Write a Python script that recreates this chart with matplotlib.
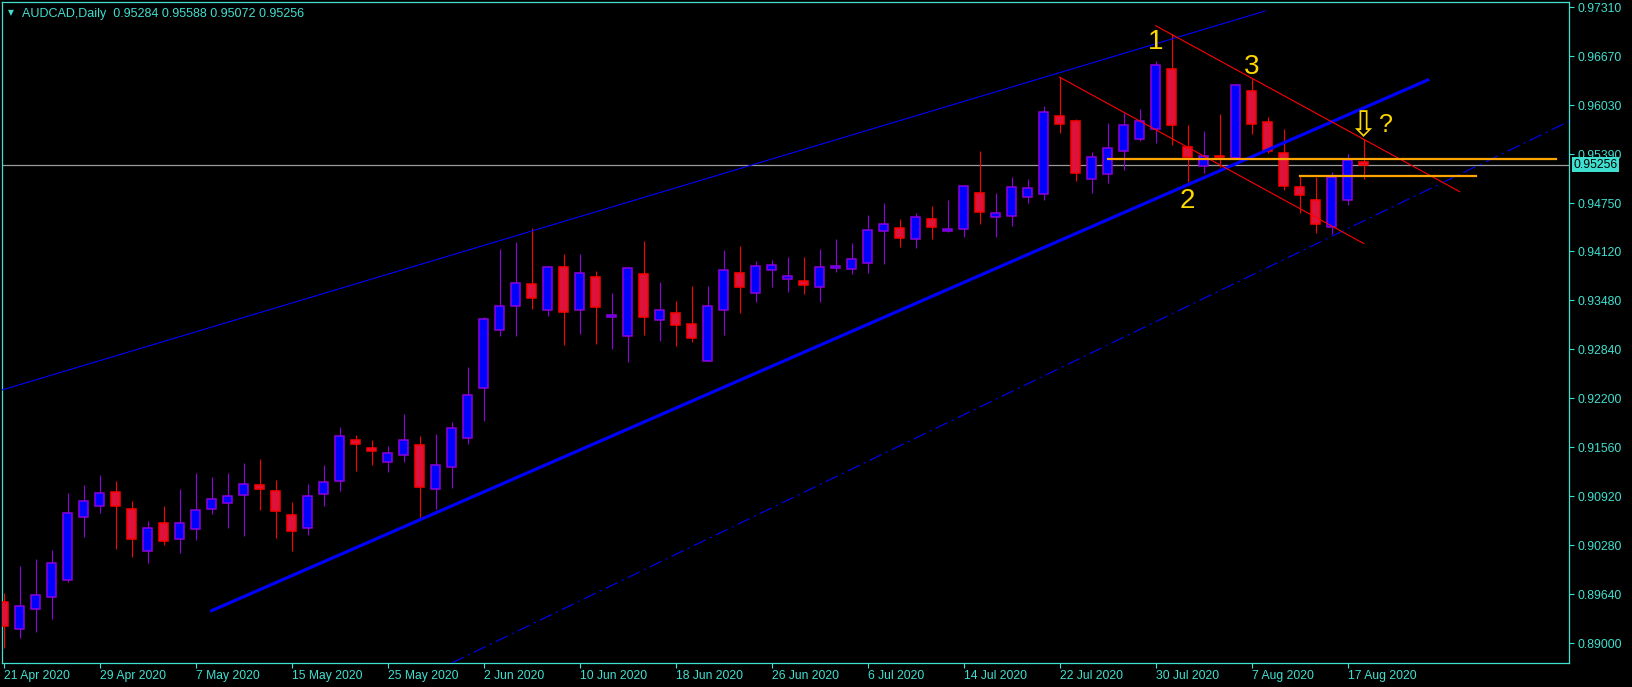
import matplotlib
matplotlib.use("Agg")
import matplotlib.pyplot as plt
from matplotlib.patches import Rectangle
from matplotlib.transforms import blended_transform_factory

plt.rcParams['font.family'] = ['Liberation Sans', 'DejaVu Sans']

# --------------------------------------------------------------
# AUDCAD daily bars, 21 Apr 2020 .. 18 Aug 2020
# --------------------------------------------------------------
opens = [0.89537, 0.89185, 0.89445, 0.89603, 0.89825, 0.90648, 0.90792, 0.90974, 0.90752, 0.90203,
         0.90569, 0.90364, 0.90491, 0.90752, 0.90831, 0.90935, 0.91066, 0.90987, 0.90674, 0.90504,
         0.90948, 0.91118, 0.91653, 0.91549, 0.91366, 0.91458, 0.91588, 0.91021, 0.91301, 0.91680,
         0.92333, 0.93090, 0.93404, 0.93691, 0.93351, 0.93914, 0.93351, 0.93783, 0.93260, 0.93012,
         0.93822, 0.93221, 0.93312, 0.93169, 0.92685, 0.93351, 0.93835, 0.93574, 0.93874, 0.93757,
         0.93730, 0.93659, 0.93908, 0.93888, 0.93966, 0.94384, 0.94423, 0.94287, 0.94541, 0.94384,
         0.94417, 0.94880, 0.94567, 0.94588, 0.94838, 0.94875, 0.95886, 0.95820, 0.95070, 0.95138,
         0.95439, 0.95586, 0.95726, 0.96501, 0.95485, 0.95243, 0.95365, 0.95345, 0.96216, 0.95811,
         0.95403, 0.94959, 0.94792, 0.94443, 0.94796, 0.95284]
highs = [0.89655, 0.90012, 0.90102, 0.90220, 0.90965, 0.91070, 0.91200, 0.91122, 0.90861, 0.90599,
         0.90796, 0.91017, 0.91230, 0.91174, 0.91230, 0.91357, 0.91409, 0.91135, 0.90848, 0.91083,
         0.91331, 0.91827, 0.91723, 0.91657, 0.91579, 0.91997, 0.91710, 0.91736, 0.91892, 0.92611,
         0.93267, 0.94152, 0.94244, 0.94423, 0.93931, 0.94087, 0.94087, 0.93865, 0.93578, 0.93914,
         0.94257, 0.93721, 0.93473, 0.93669, 0.93669, 0.94139, 0.94192, 0.93996, 0.94009, 0.94048,
         0.94048, 0.94152, 0.94283, 0.94231, 0.94597, 0.94753, 0.94544, 0.94623, 0.94714, 0.94792,
         0.94989, 0.95433, 0.94884, 0.95093, 0.95067, 0.96021, 0.96396, 0.95850, 0.95420, 0.95794,
         0.95925, 0.95979, 0.96605, 0.96957, 0.95769, 0.95694, 0.95913, 0.96308, 0.96382, 0.95883,
         0.95720, 0.95115, 0.95096, 0.95158, 0.95390, 0.95588]
lows = [0.88937, 0.89074, 0.89153, 0.89323, 0.89807, 0.90394, 0.90708, 0.90237, 0.90132, 0.90055,
        0.90290, 0.90185, 0.90355, 0.90695, 0.90511, 0.90408, 0.90747, 0.90381, 0.90211, 0.90421,
        0.90800, 0.90995, 0.91256, 0.91335, 0.91243, 0.91374, 0.90622, 0.90760, 0.91034, 0.91609,
        0.91909, 0.93020, 0.93020, 0.93372, 0.93281, 0.92903, 0.93046, 0.92916, 0.92850, 0.92680,
        0.93033, 0.92955, 0.92890, 0.92942, 0.92685, 0.93033, 0.93320, 0.93464, 0.93659, 0.93595,
        0.93569, 0.93464, 0.93856, 0.93830, 0.93843, 0.93961, 0.94179, 0.94169, 0.94287, 0.94371,
        0.94313, 0.94483, 0.94313, 0.94457, 0.94757, 0.94792, 0.95672, 0.95041, 0.94888, 0.95019,
        0.95184, 0.95563, 0.95541, 0.95515, 0.95032, 0.95149, 0.95227, 0.95345, 0.95661, 0.95407,
        0.94923, 0.94619, 0.94366, 0.94353, 0.94727, 0.95072]
closes = [0.89232, 0.89485, 0.89629, 0.90047, 0.90700, 0.90857, 0.90961, 0.90792, 0.90360, 0.90504,
          0.90334, 0.90569, 0.90739, 0.90883, 0.90922, 0.91079, 0.91014, 0.90726, 0.90465, 0.90922,
          0.91105, 0.91706, 0.91601, 0.91510, 0.91484, 0.91653, 0.91047, 0.91327, 0.91810, 0.92241,
          0.93234, 0.93404, 0.93704, 0.93516, 0.93914, 0.93333, 0.93835, 0.93398, 0.93286, 0.93901,
          0.93260, 0.93351, 0.93156, 0.92986, 0.93404, 0.93874, 0.93652, 0.93927, 0.93940, 0.93796,
          0.93686, 0.93914, 0.93931, 0.94018, 0.94397, 0.94475, 0.94300, 0.94567, 0.94436, 0.94410,
          0.94972, 0.94640, 0.94619, 0.94959, 0.94946, 0.95938, 0.95789, 0.95149, 0.95351, 0.95468,
          0.95768, 0.95821, 0.96553, 0.95776, 0.95358, 0.95365, 0.95355, 0.96292, 0.95789, 0.95429,
          0.94980, 0.94862, 0.94483, 0.95093, 0.95311, 0.95256]

date_ticks = [0, 6, 12, 18, 24, 30, 36, 42, 48, 54, 60, 66, 72, 78, 84]
date_labels = ["21 Apr 2020", "29 Apr 2020", "7 May 2020", "15 May 2020", "25 May 2020",
               "2 Jun 2020", "10 Jun 2020", "18 Jun 2020", "26 Jun 2020", "6 Jul 2020",
               "14 Jul 2020", "22 Jul 2020", "30 Jul 2020", "7 Aug 2020", "17 Aug 2020"]
price_ticks = [0.97310, 0.96670, 0.96030, 0.95390, 0.94750, 0.94120, 0.93480,
               0.92840, 0.92200, 0.91560, 0.90920, 0.90280, 0.89640, 0.89000]
bid = 0.95256

# drawn objects: (bar positions, prices)
upper_line = ([-0.23, 78.83], [0.92303, 0.97261])
support_line = ([13, 89], [0.89428, 0.96360])
lower_line = ([28, 98], [0.88744, 0.95837])
red_a = ([66, 85], [0.96396, 0.94224])
red_b = ([72, 91], [0.97069, 0.94901])
orange_a = ([69, 97], [0.95331, 0.95331])
orange_b = ([81, 92], [0.95106, 0.95106])
wave_labels = ["1", "2", "3"]
wave_x = [72, 74, 78]
wave_y = [0.96856, 0.94776, 0.96530]

AXIS = '#40e0d0'
BULL_FILL, BULL_EDGE = '#0000ff', '#8f00e0'
BEAR_FILL, BEAR_EDGE = '#dc143c', '#ff0000'
YELLOW = '#ffd700'

fig = plt.figure(figsize=(16.33, 6.87), dpi=100, facecolor='black')
ax = fig.add_axes([2 / 1633, 1 - 663 / 687, 1567 / 1633, 661 / 687])
ax.set_facecolor('black')

# bid line behind the bars
ax.axhline(bid, color='#9a9a9a', lw=0.9, zorder=1)

body_w = 0.58
for i, (o, h, l, c) in enumerate(zip(opens, highs, lows, closes)):
    bull = c >= o
    edge = BULL_EDGE if bull else BEAR_EDGE
    fill = BULL_FILL if bull else BEAR_FILL
    ax.vlines(i, l, h, color=edge, lw=0.8, zorder=2)
    bottom = min(o, c)
    height = max(abs(c - o), 0.00003)
    ax.add_patch(Rectangle((i - body_w / 2, bottom), body_w, height,
                           facecolor=fill, edgecolor=edge, lw=1.1, zorder=3))

# trend lines and levels
ax.plot(*upper_line, color='#0000ff', lw=0.8, zorder=4)
ax.plot(*support_line, color='#0000ff', lw=2.3, zorder=4)
ax.plot(*lower_line, color='#0000ff', lw=0.8, ls=(0, (12, 4, 2, 4)), zorder=4)
ax.plot(*red_a, color='#ff0000', lw=0.8, zorder=4)
ax.plot(*red_b, color='#ff0000', lw=0.8, zorder=4)
ax.plot(*orange_a, color='#ffa500', lw=1.6, zorder=4)
ax.plot(*orange_b, color='#ffa500', lw=1.6, zorder=4)

for lab, x, y in zip(wave_labels, wave_x, wave_y):
    ax.text(x, y, lab, color=YELLOW, fontsize=20, ha='center', va='center', zorder=5)
ax.text(84.95, 0.95765, "\u21e9", color=YELLOW, fontsize=25, ha='center', va='center',
        family='DejaVu Sans', zorder=5)
ax.text(86.4, 0.95775, "?", color=YELLOW, fontsize=18, ha='center', va='center', zorder=5)

ax.set_xlim(-0.106, 97.83)
ax.set_ylim(0.88744, 0.97379)

ax.set_xticks(date_ticks)
ax.set_xticklabels(date_labels, ha='left')
ax.yaxis.tick_right()
ax.set_yticks(price_ticks)
ax.set_yticklabels([f"{p:.5f}" for p in price_ticks])
ax.tick_params(axis='x', colors=AXIS, length=3.5, width=0.8, pad=1.5, labelsize=8.7)
ax.tick_params(axis='y', colors=AXIS, length=3.5, width=0.8, pad=2.5, labelsize=8.7)
for sp in ax.spines.values():
    sp.set_color(AXIS)
    sp.set_linewidth(0.9)

# current price tag on the price scale
tr = blended_transform_factory(ax.transAxes, ax.transData)
ax.text(1.0028, bid, f"{bid:.5f}", transform=tr, color='black', fontsize=8.7,
        ha='left', va='center', zorder=6, clip_on=False,
        bbox=dict(boxstyle='square,pad=0.12', facecolor=AXIS, edgecolor='none'))

# header
fig.text(8 / 1633, 1 - 13 / 687, "\u25bc", color=AXIS, fontsize=5.5, ha='left', va='center',
         family='DejaVu Sans')
fig.text(22 / 1633, 1 - 13.5 / 687, "AUDCAD,Daily  0.95284 0.95588 0.95072 0.95256",
         color=AXIS, fontsize=9, ha='left', va='center')

fig.savefig('out.png', dpi=100, facecolor='black')
